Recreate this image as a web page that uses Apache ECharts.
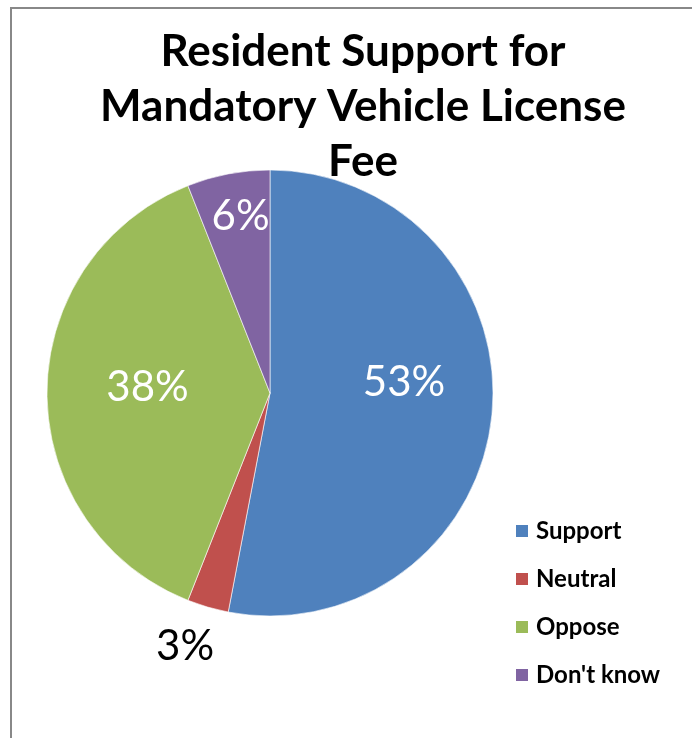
<!DOCTYPE html>
<html>
    <head>
        <meta charset="utf-8">
        <script src="https://cdn.jsdelivr.net/npm/echarts@6/dist/echarts.min.js"></script>
        <style>
            html, body { margin: 0; padding: 0; background: #fff; }
            #main { width: 692px; height: 738px; }
        </style>
    </head>
    <body>
        <div id="main"></div>
        <script>
            var titleText = 'Resident Support for\nMandatory Vehicle License\nFee';
            var categories = ['Support', 'Neutral', 'Oppose', "Don't know"];
            var shares = [53, 3, 38, 6];
            var colors = ['#4F81BD', '#C0504D', '#9BBB59', '#8064A2'];

            // label nudges from the slice midpoint (Excel "best fit" placement)
            var labelShift = [[20, -21], [-53, 143], [-8, -6], [-8, -64]];

            var chart = echarts.init(document.getElementById('main'));

            var option = {
                animation: false,
                color: colors,
                title: {
                    text: titleText,
                    left: 363,
                    top: 24,
                    padding: 0,
                    textAlign: 'center',
                    textStyle: {
                        fontFamily: 'Lato',
                        fontWeight: 'bold',
                        fontSize: 44,
                        lineHeight: 55,
                        color: '#000'
                    }
                },
                legend: {
                    orient: 'vertical',
                    left: 514,
                    top: 519,
                    padding: 0,
                    itemWidth: 14,
                    itemHeight: 14,
                    itemGap: 24,
                    icon: 'rect',
                    textStyle: {
                        fontFamily: 'Lato',
                        fontWeight: 'bold',
                        fontSize: 24,
                        lineHeight: 24,
                        color: '#000',
                        padding: [0, 0, 0, 2]
                    },
                    data: categories
                },
                graphic: [{
                    type: 'rect',
                    shape: { x: 11, y: 8, width: 720, height: 760 },
                    style: { fill: 'none', stroke: '#888', lineWidth: 2 },
                    silent: true
                }],
                series: [{
                    type: 'pie',
                    center: [270, 393],
                    radius: 223,
                    startAngle: 90,
                    clockwise: true,
                    avoidLabelOverlap: false,
                    itemStyle: { borderColor: '#fff', borderWidth: 0.6 },
                    label: {
                        show: true,
                        position: 'inside',
                        formatter: '{c}%',
                        fontFamily: 'Lato',
                        fontSize: 42,
                        color: '#fff'
                    },
                    labelLine: { show: false },
                    labelLayout: function (p) {
                        var s = labelShift[p.dataIndex];
                        return { dx: s[0], dy: s[1] };
                    },
                    emphasis: { disabled: true },
                    data: categories.map(function (c, i) {
                        var d = { name: c, value: shares[i] };
                        if (c === 'Neutral') d.label = { color: '#000' };
                        return d;
                    })
                }]
            };

            chart.setOption(option);
        </script>
    </body>
</html>
